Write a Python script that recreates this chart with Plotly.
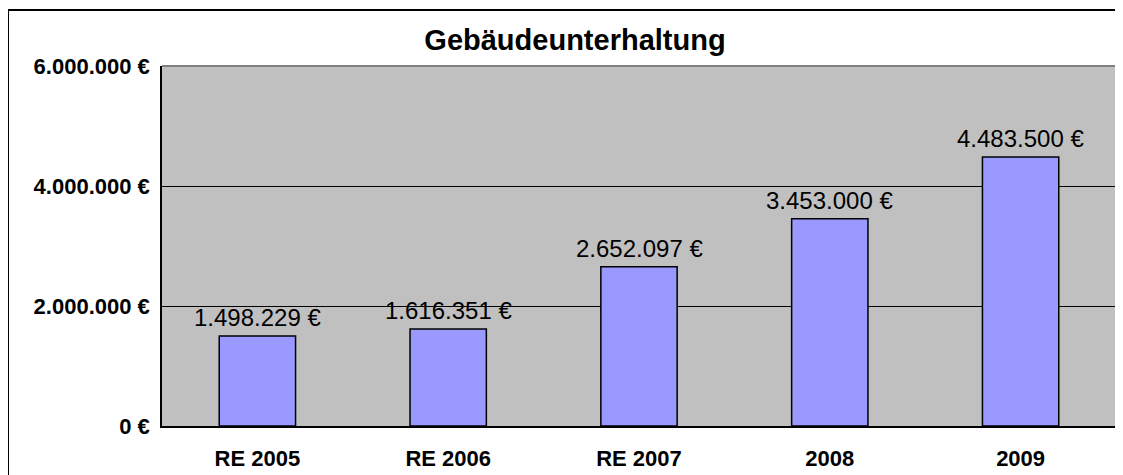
import plotly.graph_objects as go

categories = ["RE 2005", "RE 2006", "RE 2007", "2008", "2009"]
values = [1498229, 1616351, 2652097, 3453000, 4483500]
y_tickvals = [0, 2000000, 4000000, 6000000]
title_text = "Gebäudeunterhaltung"


def fmt_euro(v):
    return f"{v:,.0f}".replace(",", ".") + " €"


labels = [fmt_euro(v) for v in values]
y_ticktext = [fmt_euro(v) for v in y_tickvals]

# page has an 8px body margin; figure coordinates are page - 8
OFF = 8
W, H = 1123 - OFF, 475 - OFF
L, T = 162 - OFF, 66 - OFF
R = W - (1116 - OFF)
B = H - (426 - OFF)
pw, ph = W - L - R, H - T - B
FONT = "Liberation Sans, Arial, sans-serif"

fig = go.Figure()
fig.add_trace(go.Bar(
    x=categories, y=values,
    marker=dict(color="#9999FF", line=dict(color="black", width=1.5)),
    width=0.4,
))

# category axis: annotation x given as category index
for i, (v, t) in enumerate(zip(values, labels)):
    fig.add_annotation(x=i, y=v, text=t, showarrow=False, xanchor="center", yanchor="bottom",
                       yshift=3, font=dict(family=FONT, size=24, color="black"))

fig.update_layout(
    width=W, height=H,
    margin=dict(l=L, r=R, t=T, b=B, autoexpand=False),
    paper_bgcolor="white", plot_bgcolor="#C0C0C0",
    showlegend=False,
    title=dict(text="<b>" + title_text + "</b>", xref="container", yref="container",
               x=(575 - OFF) / W, xanchor="center", y=1 - (40 - OFF) / H, yanchor="middle",
               font=dict(family=FONT, size=29, color="black")),
    font=dict(family=FONT, color="black"),
)

fig.update_yaxes(
    range=[0, 6000000], tickvals=y_tickvals, ticktext=["<b>" + t + "</b>" for t in y_ticktext],
    tickfont=dict(size=22, color="black"),
    showgrid=True, gridcolor="black", gridwidth=1, zeroline=False,
    showline=True, linecolor="black", linewidth=1.5,
    ticks="outside", ticklen=6, tickcolor="rgba(0,0,0,0)",
    fixedrange=True, automargin=False,
)
fig.update_xaxes(
    type="category", categoryorder="array", categoryarray=categories,
    range=[-0.5, len(categories) - 0.5],
    tickvals=categories, ticktext=["<b>" + c + "</b>" for c in categories],
    tickfont=dict(size=22, color="black"),
    showline=True, linecolor="black", linewidth=1.5,
    ticks="outside", ticklen=12, tickcolor="rgba(0,0,0,0)",
    fixedrange=True, automargin=False,
)

# plot area border (grey) on top/right
fig.add_shape(type="line", xref="paper", yref="paper", x0=0, x1=1, y0=1, y1=1,
              line=dict(color="#808080", width=2), layer="above")
fig.add_shape(type="line", xref="paper", yref="paper", x0=1, x1=1, y0=0, y1=1,
              line=dict(color="#808080", width=2), layer="above")

# outer chart border
fig.add_shape(type="rect", xref="paper", yref="paper",
              x0=(8 - 162) / pw, x1=(1124 - 162) / pw,
              y0=-(B + 5) / ph, y1=1 + (66 - 10) / ph,
              line=dict(color="black", width=2), fillcolor="rgba(0,0,0,0)", layer="above")

fig.write_html("out.html")
